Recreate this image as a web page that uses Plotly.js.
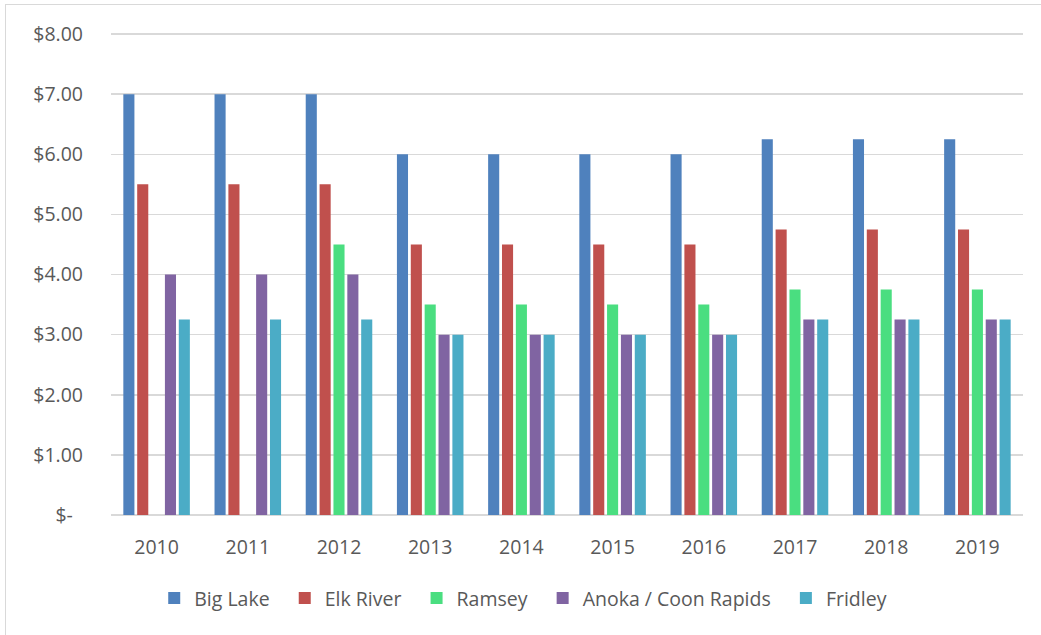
<!DOCTYPE html>
<html>
<head>
<meta charset="utf-8">
<script src="https://cdn.plot.ly/plotly-3.0.1.min.js"></script>
<style>
  html, body { margin: 0; padding: 0; background: #fff; }
  #wrap { position: relative; width: 1041px; height: 635px; overflow: hidden; }
  #frame { position: absolute; left: 5px; top: 4px; width: 1100px; height: 700px; border: 1.5px solid #D9D9D9; box-sizing: border-box; }
  #chart { position: absolute; left: 0; top: 0; width: 1041px; height: 635px; }
</style>
</head>
<body>
<div id="wrap">
  <div id="frame"></div>
  <div id="chart"></div>
</div>
<script>
const years = ["2010","2011","2012","2013","2014","2015","2016","2017","2018","2019"];
const bigLake   = [7.00, 7.00, 7.00, 6.00, 6.00, 6.00, 6.00, 6.25, 6.25, 6.25];
const elkRiver  = [5.50, 5.50, 5.50, 4.50, 4.50, 4.50, 4.50, 4.75, 4.75, 4.75];
const ramsey    = [null, null, 4.50, 3.50, 3.50, 3.50, 3.50, 3.75, 3.75, 3.75];
const anoka     = [4.00, 4.00, 4.00, 3.00, 3.00, 3.00, 3.00, 3.25, 3.25, 3.25];
const fridley   = [3.25, 3.25, 3.25, 3.00, 3.00, 3.00, 3.00, 3.25, 3.25, 3.25];
const seriesNames = ["Big Lake", "Elk River", "Ramsey", "Anoka / Coon Rapids", "Fridley"];
const seriesColors = ["#4F81BD", "#C0504D", "#4ADE80", "#8064A2", "#4BACC6"];
const yTickVals = [0, 1, 2, 3, 4, 5, 6, 7, 8];
const yTickText = ["$-\u00a0\u00a0", "$1.00", "$2.00", "$3.00", "$4.00", "$5.00", "$6.00", "$7.00", "$8.00"];

const pad = "\u00a0\u00a0";
const allSeries = [bigLake, elkRiver, ramsey, anoka, fridley];
const traces = allSeries.map((vals, i) => ({
  type: "bar",
  x: years,
  y: vals,
  name: seriesNames[i] + (i < allSeries.length - 1 ? pad : ""),
  marker: { color: seriesColors[i] },
  hoverinfo: "x+y+name"
}));

const font = { family: "Open Sans, Noto Sans, sans-serif", size: 19.5, color: "#595959" };

const layout = {
  width: 1041,
  height: 635,
  paper_bgcolor: "rgba(0,0,0,0)",
  plot_bgcolor: "rgba(0,0,0,0)",
  margin: { l: 111, r: 18, t: 28, b: 120 },
  barmode: "group",
  bargap: 0.24,
  bargroupgap: 0.2,
  font: font,
  showlegend: true,
  legend: {
    orientation: "h",
    x: 0.452, xanchor: "center",
    y: -0.171, yanchor: "middle",
    font: font,
    itemclick: false
  },
  xaxis: {
    type: "category",
    showgrid: false,
    showline: false,
    ticks: "",
    tickfont: font,
    ticklabelstandoff: 18
  },
  yaxis: {
    range: [0, 8.1],
    tickvals: yTickVals,
    ticktext: yTickText,
    showgrid: true,
    gridcolor: "#D9D9D9",
    gridwidth: 1.5,
    zeroline: true,
    zerolinecolor: "#D9D9D9",
    zerolinewidth: 1.5,
    showline: false,
    ticks: "",
    tickfont: font,
    ticklabelstandoff: 27
  }
};

Plotly.newPlot("chart", traces, layout, { displayModeBar: false, staticPlot: true });
</script>
</body>
</html>
